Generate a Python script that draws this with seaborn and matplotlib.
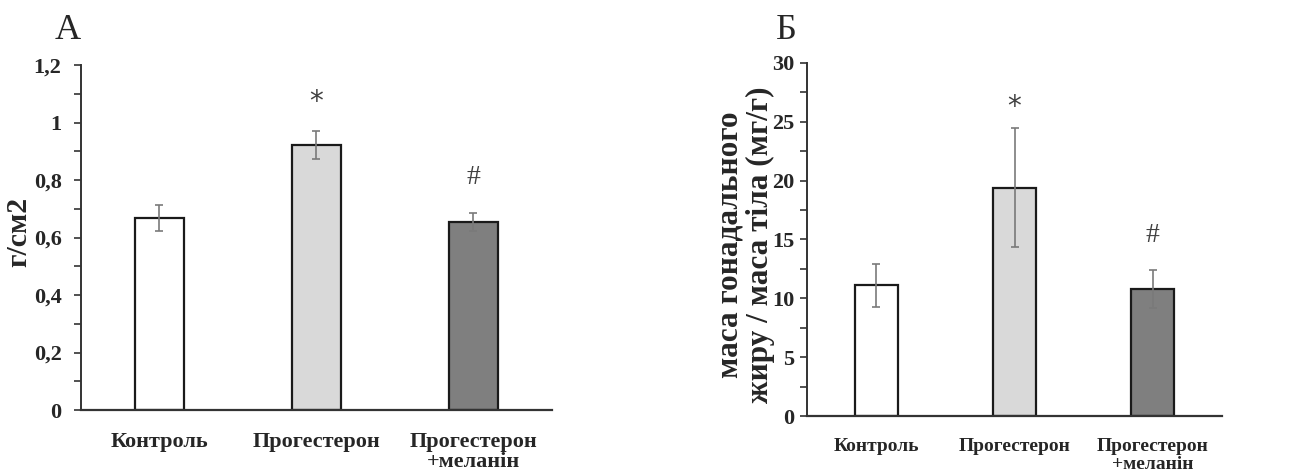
import matplotlib
matplotlib.use("Agg")
import matplotlib.pyplot as plt
import seaborn as sns
import pandas as pd
from matplotlib.ticker import MultipleLocator, FuncFormatter

sns.set_style("ticks")
plt.rcParams['font.family'] = ['Liberation Serif', 'DejaVu Serif']

groups = ["Контроль", "Прогестерон", "Прогестерон\n+меланін"]
colors = ["#ffffff", "#d9d9d9", "#7f7f7f"]

# panel A: g/cm2
density_mean = [0.668, 0.922, 0.654]
density_err = [0.044, 0.050, 0.031]
density_marks = ["", "*", "#"]
density_mark_y = [None, 1.07, 0.81]

# panel B: gonadal fat / body mass (mg/g)
fat_mean = [11.1, 19.4, 10.8]
fat_err = [1.85, 5.05, 1.65]
fat_marks = ["", "*", "#"]
fat_mark_y = [None, 26.3, 15.3]


def comma_fmt(v, pos):
    s = ("%.1f" % v).rstrip("0").rstrip(".")
    return s.replace(".", ",")


def draw_panel(ax, means, errs, marks, mark_y, ylim, major, minor,
               ytick_pad, cat_size, cat_pad, cat_ls):
    df = pd.DataFrame({"group": groups, "value": means})
    sns.barplot(data=df, x="group", y="value", hue="group", palette=colors,
                width=0.31, edgecolor="#1a1a1a", linewidth=1.6, legend=False, ax=ax)
    ax.errorbar(range(len(groups)), means, yerr=errs, fmt="none",
                ecolor="#7a7a7a", elinewidth=1.2, capsize=3, capthick=1.2)
    for i, m in enumerate(marks):
        if m:
            ax.text(i, mark_y[i], m, ha="center", va="center", fontsize=20,
                    color="#404040", family="DejaVu Sans" if m == "*" else "Liberation Serif")
    ax.set_xlim(-0.5, 2.5)
    ax.set_ylim(*ylim)
    ax.yaxis.set_major_locator(MultipleLocator(major))
    ax.yaxis.set_minor_locator(MultipleLocator(minor))
    ax.yaxis.set_major_formatter(FuncFormatter(comma_fmt))
    ax.tick_params(axis="y", which="both", direction="out", length=5, width=1.2,
                   color="#333333", labelsize=16, pad=ytick_pad)
    ax.tick_params(axis="x", length=0, labelsize=cat_size, pad=cat_pad)
    for lab in ax.get_xticklabels():
        lab.set_fontweight("bold")
        lab.set_linespacing(cat_ls)
    for lab in ax.get_yticklabels():
        lab.set_fontweight("bold")
    ax.set_xlabel("")
    ax.set_ylabel("")
    sns.despine(ax=ax)
    ax.spines["left"].set_linewidth(1.4)
    ax.spines["bottom"].set_linewidth(1.6)
    ax.spines["left"].set_color("#333333")
    ax.spines["bottom"].set_color("#333333")
    ax.set_facecolor("white")


W, H = 1304, 475
fig = plt.figure(figsize=(W / 100, H / 100), dpi=100)
ax1 = fig.add_axes([0.0621, 0.1368, 0.3612, 0.7263])
ax2 = fig.add_axes([0.6189, 0.1242, 0.3183, 0.7432])

draw_panel(ax1, density_mean, density_err, density_marks, density_mark_y,
           (0, 1.2), 0.2, 0.1, 9, 16, 16, 1.0)
draw_panel(ax2, fat_mean, fat_err, fat_marks, fat_mark_y,
           (0, 30), 5, 2.5, 4, 14, 15.5, 1.1)

fig.text(19 / W, 1 - 232 / H, "г/см2", rotation=90, fontsize=21.5,
         fontweight="bold", ha="center", va="center")
fig.text(745 / W, 1 - 245 / H, "маса гонадального\nжиру / маса тіла (мг/г)",
         rotation=90, fontsize=22.5, fontweight="bold", ha="center", va="center",
         linespacing=1.05, multialignment="center")

fig.text(0.052, 0.935, "А", fontsize=26, ha="center", va="center")
fig.text(0.603, 0.935, "Б", fontsize=26, ha="center", va="center")

fig.savefig("out.png", dpi=100, facecolor="white")
